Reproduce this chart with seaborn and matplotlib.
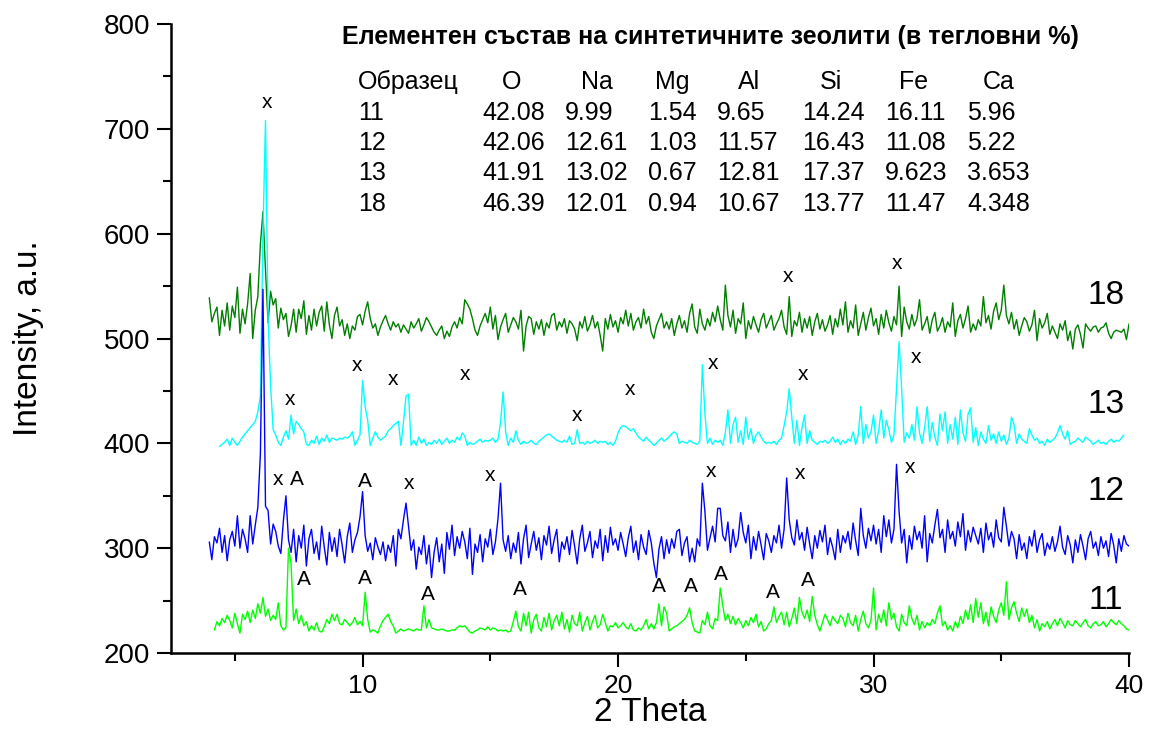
import numpy as np
import pandas as pd
import seaborn as sns
import matplotlib.pyplot as plt
from matplotlib.ticker import MultipleLocator

# XRD patterns, 2 Theta step 0.1, one row of values per degree
start18, start12, start11, start13 = 4.0, 4.0, 4.2, 4.4

int18 = [
    539, 516, 524, 530, 503, 527, 512, 534, 508, 531,
    520, 549, 505, 528, 514, 533, 562, 500, 527, 540,
    590, 621, 565, 515, 545, 532, 538, 510, 529, 518,
    524, 502, 512, 528, 506, 528, 519, 536, 504, 522,
    508, 528, 512, 525, 531, 507, 535, 513, 500, 522,
    530, 512, 518, 503, 514, 500, 512, 508, 521, 523,
    513, 526, 535, 519, 510, 514, 503, 511, 517, 522,
    514, 508, 516, 511, 514, 506, 513, 509, 505, 516,
    510, 514, 519, 507, 513, 520, 516, 511, 506, 503,
    508, 512, 500, 507, 502, 511, 516, 510, 520, 514,
    537, 533, 528, 519, 508, 503, 512, 518, 524, 515,
    530, 509, 522, 499, 511, 518, 524, 506, 513, 520,
    516, 509, 527, 488, 512, 521, 519, 504, 516, 509,
    518, 503, 515, 510, 522, 524, 508, 516, 511, 519,
    505, 517, 514, 509, 498, 516, 510, 521, 507, 513,
    522, 510, 516, 503, 488, 519, 509, 523, 511, 517,
    506, 520, 514, 527, 512, 524, 508, 516, 520, 510,
    528, 514, 521, 506, 500, 512, 518, 524, 510, 516,
    509, 519, 503, 514, 522, 510, 517, 506, 524, 533,
    511, 505, 528, 514, 508, 519, 512, 525, 516, 531,
    518, 508, 551, 522, 511, 527, 505, 519, 514, 534,
    500, 517, 509, 521, 513, 506, 518, 524, 510, 516,
    522, 508, 514, 519, 527, 511, 504, 540, 502, 517,
    512, 525, 506, 519, 510, 521, 503, 516, 524, 509,
    518, 507, 513, 522, 504, 519, 511, 528, 513, 535,
    506, 517, 510, 532, 503, 514, 525, 508, 520, 529,
    512, 519, 504, 523, 510, 527, 515, 507, 521, 513,
    550, 502, 530, 516, 509, 523, 512, 519, 537, 508,
    514, 521, 505, 518, 525, 507, 512, 520, 506, 516,
    511, 534, 502, 517, 523, 510, 519, 531, 506, 514,
    508, 518, 512, 540, 515, 522, 509, 526, 534, 518,
    527, 551, 522, 514, 525, 509, 518, 503, 512, 520,
    516, 507, 513, 527, 498, 519, 510, 515, 524, 504,
    512, 506, 500, 514, 508, 517, 498, 507, 490, 509,
    513, 504, 491, 514, 510, 507, 511, 512, 506, 510,
    511, 515, 505, 500, 506, 508, 507, 506, 509, 499,
    514,
]

int12 = [
    306, 289, 311, 305, 319, 296, 312, 288, 308, 316,
    302, 331, 300, 318, 309, 296, 331, 304, 322, 339,
    390, 547, 340, 336, 304, 323, 316, 302, 295, 326,
    350, 308, 296, 318, 287, 312, 300, 322, 283, 309,
    318, 295, 306, 289, 321, 301, 284, 315, 297, 310,
    292, 318, 303, 286, 311, 324, 296, 308, 315, 330,
    354, 312, 297, 305, 289, 310, 301, 294, 306, 288,
    303, 296, 312, 283, 318, 309, 327, 343, 320, 298,
    308, 280, 301, 294, 312, 285, 303, 272, 296, 310,
    287, 304, 276, 315, 299, 322, 293, 311, 300, 316,
    306, 290, 319, 275, 304, 296, 313, 287, 309, 301,
    318, 294, 306, 328, 362, 308, 297, 312, 290, 305,
    296, 315, 285, 309, 322, 291, 304, 316, 298, 310,
    289, 312, 303, 321, 295, 308, 318, 287, 306, 299,
    311, 294, 317, 302, 285, 309, 322, 297, 305, 316,
    291, 307, 300, 318, 288, 312, 296, 320, 303, 309,
    298, 315, 304, 292, 310, 321, 296, 307, 289, 313,
    301, 294, 317, 305, 286, 272, 299, 311, 290, 308,
    295, 309, 300, 316, 318, 293, 305, 311, 287, 300,
    287, 309, 302, 362, 335, 298, 310, 321, 306, 338,
    338, 312, 307, 325, 296, 318, 301, 309, 334, 315,
    305, 322, 290, 311, 298, 316, 303, 289, 314, 307,
    296, 312, 305, 322, 300, 318, 367, 327, 310, 303,
    327, 308, 315, 298, 320, 304, 290, 312, 300, 317,
    306, 322, 294, 310, 301, 289, 318, 296, 312, 305,
    316, 299, 324, 307, 293, 338, 312, 300, 319, 307,
    322, 304, 318, 296, 331, 311, 327, 305, 318, 380,
    335, 305, 318, 286, 312, 299, 321, 308, 316, 300,
    331, 287, 314, 305, 322, 337, 310, 318, 296, 327,
    309, 316, 302, 325, 311, 333, 298, 317, 306, 320,
    312, 304, 319, 296, 324, 308, 315, 301, 327, 310,
    306, 339, 321, 302, 316, 309, 290, 313, 298, 305,
    290, 311, 302, 317, 296, 308, 314, 293, 305, 299,
    311, 297, 306, 321, 301, 294, 312, 303, 286, 308,
    296, 313, 302, 289, 309, 316, 300, 306, 293, 311,
    300, 307, 292, 314, 303, 286, 309, 297, 312, 304,
    302,
]

int11 = [
    222, 230, 226, 233, 229, 236, 231, 224,
    238, 228, 219, 237, 232, 240, 229, 241, 233, 247,
    238, 253, 235, 242, 231, 236, 232, 248, 226, 222,
    224, 300, 285, 231, 242, 228, 236, 226, 230, 221,
    226, 222, 229, 221, 220, 225, 232, 228, 237, 231,
    237, 228, 227, 232, 229, 226, 229, 234, 227, 230,
    226, 258, 232, 220, 222, 221, 219, 226, 231, 234,
    237, 230, 226, 219, 221, 223, 221, 222, 223, 222,
    221, 223, 222, 222, 245, 224, 232, 224, 223, 222,
    222, 223, 222, 221, 221, 222, 222, 224, 226, 225,
    226, 223, 220, 219, 221, 222, 224, 223, 222, 225,
    222, 224, 223, 221, 222, 221, 222, 220, 221, 230,
    240, 225, 221, 238, 226, 239, 219, 232, 237, 224,
    221, 234, 225, 238, 222, 231, 236, 226, 239, 223,
    232, 220, 236, 228, 226, 239, 221, 229, 235, 222,
    230, 236, 224, 227, 237, 229, 221, 226, 225, 229,
    224, 226, 229, 225, 223, 228, 222, 221, 224, 222,
    226, 232, 223, 228, 223, 229, 247, 226, 244, 238,
    221, 223, 225, 226, 228, 230, 232, 236, 243, 229,
    221, 220, 219, 231, 227, 239, 226, 223, 233, 231,
    262, 245, 231, 237, 228, 235, 227, 233, 229, 224,
    231, 226, 234, 229, 237, 225, 230, 221, 223, 228,
    231, 244, 229, 235, 239, 227, 239, 225, 233, 243,
    228, 253, 239, 233, 241, 230, 254, 236, 227, 221,
    229, 237, 232, 226, 235, 231, 228, 236, 233, 225,
    238, 229, 226, 236, 221, 232, 240, 228, 224, 231,
    262, 222, 237, 229, 241, 226, 248, 232, 238, 225,
    221, 237, 229, 226, 245, 233, 227, 236, 222, 230,
    224, 229, 226, 232, 228, 238, 245, 226, 230, 222,
    226, 221, 230, 224, 235, 228, 241, 232, 246, 229,
    252, 234, 248, 228, 239, 226, 244, 235, 229, 241,
    248, 236, 268, 232, 243, 249, 238, 230, 243, 235,
    242, 229, 236, 224, 232, 221, 228, 225, 230, 223,
    228, 232, 226, 233, 229, 224, 231, 227, 226, 231,
    228, 225, 229, 232, 226, 224, 228, 230, 226, 227,
    230, 225, 228, 232, 229, 227, 231, 228, 226, 223,
    222,
]

int13 = [
    397, 399, 401, 404, 398, 405,
    401, 398, 402, 406, 409, 412, 415, 418, 421, 430,
    445, 600, 708, 520, 455, 413, 408, 401, 398, 406,
    412, 404, 427, 409, 421, 418, 414, 411, 399, 398,
    403, 400, 407, 399, 405, 402, 408, 401, 405, 404,
    403, 405, 404, 406, 405, 407, 411, 398, 403, 408,
    460, 435, 422, 398, 405, 411, 406, 403, 405, 407,
    412, 414, 417, 419, 421, 398, 420, 445, 447, 398,
    403, 398, 406, 400, 404, 398, 401, 399, 403, 400,
    404, 399, 402, 405, 400, 403, 401, 406, 403, 410,
    407, 398, 401, 399, 400, 402, 404, 401, 403, 402,
    403, 405, 401, 404, 420, 449, 411, 398, 405, 401,
    412, 403, 399, 402, 400, 401, 403, 400, 399, 402,
    404, 406, 408, 409, 407, 405, 403, 402, 401, 403,
    401, 407, 399, 400, 413, 400, 401, 399, 402, 400,
    401, 403, 400, 402, 401, 402, 399, 401, 398, 402,
    410, 415, 417, 416, 414, 412, 414, 410, 406, 404,
    402, 406, 403, 401, 398, 400, 403, 405, 402, 404,
    406, 409, 411, 409, 400, 402, 401, 400, 403, 401,
    400, 399, 402, 475, 428, 400, 405, 399, 403, 401,
    403, 398, 410, 432, 400, 418, 425, 401, 412, 399,
    425, 404, 414, 400, 408, 411, 406, 402, 400, 401,
    400, 402, 399, 403, 405, 417, 430, 452, 425, 400,
    422, 398, 415, 427, 400, 412, 403, 401, 399, 402,
    401, 403, 400, 402, 406, 401, 404, 399, 403, 400,
    404, 402, 411, 399, 408, 435, 400, 418, 405, 411,
    427, 400, 412, 432, 405, 422, 413, 401, 408, 452,
    497, 452, 401, 410, 405, 418, 403, 435, 410, 400,
    415, 435, 402, 420, 406, 398, 428, 412, 430, 400,
    418, 404, 425, 399, 432, 410, 402, 428, 434, 401,
    415, 398, 411, 404, 400, 417, 403, 409, 400, 411,
    402, 408, 399, 405, 425, 418, 400, 409, 404, 402,
    400, 414, 408, 403, 405, 400, 402, 398, 404, 401,
    403, 405, 410, 417, 409, 404, 412, 399, 401, 402,
    405, 403, 401, 406, 404, 402, 399, 401, 403, 400,
    401, 399, 402, 404, 401, 403, 402, 405, 408,
]

# peak markers: (2 Theta, intensity, label)
marks = [
    (6.25, 725, "x"), (7.15, 442, "x"), (9.77, 474, "x"), (11.2, 461, "x"),
    (14.0, 466, "x"), (18.4, 427, "x"), (20.45, 451, "x"), (23.73, 476, "x"),
    (27.25, 466, "x"), (31.67, 482, "x"), (26.66, 559, "x"), (30.92, 572, "x"),
    (6.68, 366, "x"), (7.42, 366, "A"), (10.08, 364, "A"), (11.8, 362, "x"),
    (15.0, 369, "x"), (23.65, 373, "x"), (27.13, 371, "x"), (31.43, 377, "x"),
    (7.69, 270, "A"), (10.08, 271, "A"), (12.54, 256, "A"), (16.14, 261, "A"),
    (21.6, 263, "A"), (22.87, 263, "A"), (24.04, 275, "A"), (26.07, 258, "A"),
    (27.44, 269, "A"),
]

samples = ["11", "12", "13", "18"]
sample_y = [250, 354, 437, 541]

table_title = "Елементен състав на синтетичните зеолити (в тегловни %)"
elements = ["O", "Na", "Mg", "Al", "Si", "Fe", "Ca"]
composition = [
    ["42.08", "9.99", "1.54", "9.65", "14.24", "16.11", "5.96"],
    ["42.06", "12.61", "1.03", "11.57", "16.43", "11.08", "5.22"],
    ["41.91", "13.02", "0.67", "12.81", "17.37", "9.623", "3.653"],
    ["46.39", "12.01", "0.94", "10.67", "13.77", "11.47", "4.348"],
]


def frame(start, values, name):
    x = np.round(start + 0.1 * np.arange(len(values)), 1)
    return pd.DataFrame({"theta": x, "intensity": values, "sample": name})


df = pd.concat([frame(start18, int18, "18"), frame(start13, int13, "13"),
                frame(start12, int12, "12"), frame(start11, int11, "11")])

sns.set_style("ticks")
plt.rcParams["font.family"] = ["Liberation Sans", "DejaVu Sans"]
plt.rcParams.update({"text.color": "black", "axes.labelcolor": "black",
                     "xtick.color": "black", "ytick.color": "black"})

fig = plt.figure(figsize=(11.49, 7.33), dpi=100)
ax = fig.add_axes([0.1488, 0.1091, 0.8338, 0.8581])

palette = {"18": "#007F00", "13": "#00FFFF", "12": "#0000FF", "11": "#00FF00"}
for name in ["18", "13", "12", "11"]:
    sns.lineplot(data=df[df["sample"] == name], x="theta", y="intensity",
                 color=palette[name], linewidth=1.0, ax=ax, legend=False)

ax.set_xlim(2.5, 40)
ax.set_ylim(200, 800)
ax.xaxis.set_major_locator(MultipleLocator(10))
ax.xaxis.set_minor_locator(MultipleLocator(5))
ax.yaxis.set_major_locator(MultipleLocator(100))
ax.yaxis.set_minor_locator(MultipleLocator(50))
ax.tick_params(which="major", direction="out", length=10, width=1.5, color="black")
ax.tick_params(which="minor", direction="out", length=6, width=1.5, color="black")
ax.tick_params(axis="y", labelsize=20, pad=5, labelcolor="black")
ax.tick_params(axis="x", labelsize=19, pad=5, labelcolor="black")
for side in ["top", "right"]:
    ax.spines[side].set_visible(False)
for side in ["left", "bottom"]:
    ax.spines[side].set_linewidth(1.8)
    ax.spines[side].set_color("black")

ax.set_xlabel("2 Theta", fontsize=24, color="black")
ax.set_ylabel("Intensity, a.u.", fontsize=24, color="black")
ax.xaxis.set_label_coords(0.5, -0.07)
ax.yaxis.set_label_coords(-0.133, 0.5)

for xm, ym, lab in marks:
    ax.text(xm, ym, lab, fontsize=15, ha="center", va="center", color="black")

for name, ys in zip(samples, sample_y):
    ax.text(39.1, ys, name, fontsize=24, ha="center", va="center", color="black")

# composition table drawn as text, positions in pixels of the 1149x733 figure
W, H = 1149, 733
fig.text(710 / W, 1 - 37 / H, table_title, fontsize=18, fontweight="bold",
         ha="center", va="center", color="black")
fig.text(358 / W, 1 - 82 / H, "Образец", fontsize=18, ha="left", va="center",
         color="black")
head_x = [512, 597, 672, 749, 831, 914, 999]
for hx, el in zip(head_x, elements):
    fig.text(hx / W, 1 - 82 / H, el, fontsize=18, ha="center", va="center",
             color="black")
col_x = [482, 565, 648, 717, 802, 885, 967]
row_y = [113, 143, 173, 204]
for ry, name, vals in zip(row_y, samples, composition):
    fig.text(358 / W, 1 - ry / H, name, fontsize=18, ha="left", va="center",
             color="black")
    for cx, v in zip(col_x, vals):
        fig.text(cx / W, 1 - ry / H, v, fontsize=18, ha="left", va="center",
                 color="black")

fig.savefig("out.png", dpi=100)
